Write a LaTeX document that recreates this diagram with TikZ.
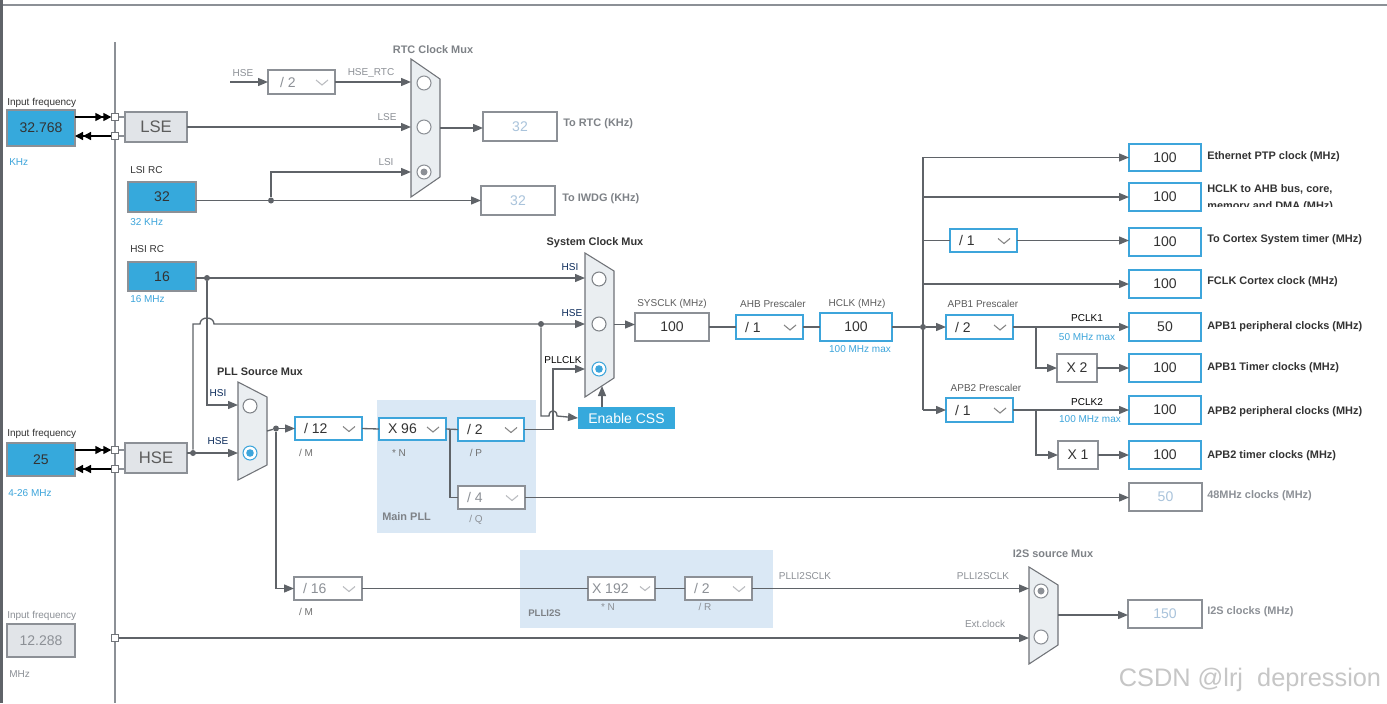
\documentclass[tikz,border=0pt]{standalone}
\usepackage{fontspec}
\setmainfont{Liberation Sans}
\usetikzlibrary{arrows.meta}
\definecolor{lc}{HTML}{5F6368}
\definecolor{bl}{HTML}{36A9DC}
\definecolor{bt}{HTML}{3DA5DB}
\definecolor{gb}{HTML}{E1E4E8}
\definecolor{gr}{HTML}{8C9096}
\definecolor{dv}{HTML}{A9C3DB}
\definecolor{reg}{HTML}{DAE8F5}
\definecolor{muxf}{HTML}{EAEEF1}
\definecolor{tx}{HTML}{333333}
\definecolor{nv}{HTML}{0A2A5A}
\newcommand\bx[7]{\node[#6, minimum width={(#4-#2)*0.75pt}, minimum height={(#5-#3)*0.75pt}] (#1) at ({(#2+#4)/2},{(#3+#5)/2}) {#7};}
\newcommand\pre[8]{\bx{#1}{#2}{#3}{#4}{#5}{#6}{}
 \node[val,text=#8,anchor=west] at (#2+9,{(#3+#5)/2}) {#7};
 \draw[line width=0.8pt,draw=#8!60] ([shift={(-19,-2)}]#1.east) -- ++(6,5) -- ++(6,-5);}
\newcommand\mux[7]{\draw[muxs] (#2,#3) -- (#5,#6) -- (#5,#7) -- (#2,#4) -- cycle;
 \coordinate (#1out) at (#5,{(#6+#7)/2});}
\begin{document}
\begin{tikzpicture}[x=0.75pt,y=-0.75pt,
 ln/.style={draw=lc,line width=1pt},
 arr/.style={ln,-{Triangle[length=7.5pt,width=6pt]}},
 base/.style={inner sep=0pt,outer sep=0pt},
 bfill/.style={base,fill=bl,draw=gr,line width=0.8pt,font=\fontsize{10.5}{12}\selectfont,text=tx},
 bout/.style={base,fill=white,draw=bt,line width=1.6pt,font=\fontsize{10.5}{12}\selectfont,text=tx},
 wbox/.style={base,fill=white,draw=gr,line width=0.8pt,font=\fontsize{10.5}{12}\selectfont,text=tx},
 dbox/.style={base,fill=white,draw=gr,line width=0.8pt,font=\fontsize{10.5}{12}\selectfont,text=dv},
 gbox/.style={base,fill=gb,draw=gr,line width=0.8pt,font=\fontsize{12.5}{14}\selectfont,text=tx!80},
 val/.style={base,font=\fontsize{10.5}{12}\selectfont},
 lb/.style={font=\fontsize{7.5}{9}\selectfont,text=tx,inner sep=0pt},
 lbg/.style={lb,text=gr},
 lbb/.style={lb,text=bt},
 lbn/.style={lb,text=nv},
 bold/.style={lb,font=\fontsize{8.2}{9}\selectfont\bfseries},
 boldg/.style={bold,text=gr!90!black},
 muxs/.style={draw=gr!80!black,fill=muxf,line width=0.8pt},
 circ/.style={circle,draw=gr!90!black,line width=0.8pt,fill=white,minimum size=10.5pt,inner sep=0pt},
 sq/.style={base,draw=gr!80!black,fill=white,line width=0.7pt,minimum size=5.5pt},
 dot/.style={circle,fill=lc,inner sep=0pt,minimum size=4.5pt},
]
\useasboundingbox (0,0) rectangle (1387,703);
\fill[white] (0,0) rectangle (1387,703);
\draw[gr,line width=1.2pt] (0,5) -- (1387,5);
\fill[lc] (0,0) rectangle (3,703);
% regions
\fill[reg] (377,400) rectangle (536,533);
\fill[reg] (520,550) rectangle (773,628);
\node[boldg,anchor=west] at (382,517) {Main PLL};
\node[boldg,anchor=west,font=\fontsize{7.2}{9}\selectfont\bfseries] at (528,613) {PLLI2S};
% left vertical
\draw[gr,line width=0.8pt] (115,42) -- (115,703);
% inputs
\node[lb,anchor=west] at (7,103) {Input frequency};
\bx{in1}{7}{110}{75}{146}{bfill}{32.768}
\node[lbb,anchor=west] at (9,162) {KHz};
\node[lb,anchor=west] at (7,434) {Input frequency};
\bx{in2}{7}{443}{75}{476}{bfill}{25}
\node[lbb,anchor=west] at (8,493) {4-26 MHz};
\node[lbg,anchor=west] at (7,616) {Input frequency};
\bx{in3}{7}{624}{75}{657}{gbox}{\fontsize{10.5}{12}\selectfont\color{gr}12.288}
\node[lbg,anchor=west] at (9,674) {MHz};
\node[sq] (s1) at (115,117) {};
\node[sq] (s2) at (115,136) {};
\node[sq] (s3) at (115,450) {};
\node[sq] (s4) at (115,469) {};
\node[sq] (s5) at (115,638) {};
\bx{lse}{125}{112}{187}{142}{gbox}{LSE}
\bx{hse}{125}{443}{187}{473}{gbox}{HSE}
\draw[black,line width=1pt,-{Triangle[length=6pt,width=6pt]Triangle[length=6pt,width=6pt]}] (75,117) -- (s1.west);
\draw[black,line width=1pt,-{Triangle[length=6pt,width=6pt]Triangle[length=6pt,width=6pt]}] (s2.west) -- (75,136);
\draw[black,line width=1pt,-{Triangle[length=6pt,width=6pt]Triangle[length=6pt,width=6pt]}] (75,450) -- (s3.west);
\draw[black,line width=1pt,-{Triangle[length=6pt,width=6pt]Triangle[length=6pt,width=6pt]}] (s4.west) -- (75,469);
\draw[gr,line width=0.8pt] (s1.east) -- (125,117) (s2.east) -- (125,136) (s3.east) -- (125,450) (s4.east) -- (125,469);
% LSI/HSI
\node[lb,anchor=west] at (130,170) {LSI RC};
\bx{lsi}{128}{182}{196}{212}{bfill}{32}
\node[lbb,anchor=west] at (130,222) {32 KHz};
\node[lb,anchor=west] at (130,249) {HSI RC};
\bx{hsi}{128}{262}{196}{291}{bfill}{16}
\node[lbb,anchor=west] at (130,299) {16 MHz};
% RTC mux
\node[boldg] at (433,50) {RTC Clock Mux};
\mux{rtc}{411}{59}{197}{440}{79}{177}
\node[circ,draw=gr] at (424,83) {};
\node[circ,draw=gr] at (424,127) {};
\node[circ,draw=gr] (rc3) at (424,172) {};
\fill[gr] (rc3) circle (3.5);
\coordinate (rtc1) at (411,82);
\coordinate (rtc2) at (411,127);
\coordinate (rtc3) at (411,172);
\bx{hsediv}{268}{70}{335}{94}{wbox}{}
\node[val,text=gr,anchor=west] at (280,82) {/ 2};
\draw[line width=0.8pt,draw=gr!60] ([shift={(-19,-2)}]hsediv.east) -- ++(6,5) -- ++(6,-5);
\coordinate (hsefree) at (230,82);
\draw[arr] (hsefree) -- (hsediv.west);
\node[lbg] at (243,73) {HSE};
\draw[arr] (hsediv.east) -- (rtc1);
\node[lbg] at (371,73) {HSE\_RTC};
\draw[arr] (lse.east) -- (rtc2);
\node[lbg] at (387,117) {LSE};
\bx{rtcb}{483}{112}{557}{141}{dbox}{32}
\node[boldg,anchor=west] at (563,124) {To RTC (KHz)};
\bx{iwdg}{481}{186}{555}{215}{dbox}{32}
\node[boldg,anchor=west] at (562,199) {To IWDG (KHz)};
\draw[arr] (rtcout) -- (rtcout -| rtcb.west);
\node[dot] (lsid) at (271,200.5) {};
\draw[arr] (lsi.east |- iwdg.west) -- (iwdg.west);
\draw[arr] (lsid) |- (rtc3);
\node[lbg] at (386,162) {LSI};
% System mux
\node[bold,text=tx] at (595,243) {System Clock Mux};
\mux{sys}{585}{253}{397}{614}{271}{378}
\node[circ] at (599,279) {};
\node[circ] at (599,324) {};
\node[circ,draw=bt] (sc3) at (599,369) {};
\fill[bt] (sc3) circle (3.8);
\coordinate (sys1) at (585,278);
\coordinate (sys2) at (585,324);
\coordinate (sys3) at (585,369);
\coordinate (sysb) at (602,386);
\node[dot] (hsid) at (207,278) {};
\draw[arr] (hsi.east |- sys1) -- (sys1);
\node[lbn] at (570,267) {HSI};
% PLL mux
\node[bold,text=tx] at (260,372) {PLL Source Mux};
\mux{pll}{238}{382}{480}{267}{397}{465}
\node[circ] at (250,406) {};
\node[circ,draw=bt] (pc2) at (250,453) {};
\fill[bt] (pc2) circle (3.8);
\coordinate (pll1) at (238,405);
\coordinate (pll2) at (238,453);
\draw[arr] (hsid) |- (pll1);
\node[lbn] at (218,393) {HSI};
\node[dot] (hsed) at (193,453) {};
\draw[arr] (hse.east |- pll2) -- (pll2);
\node[lbn] at (218,441) {HSE};
\node[dot] (sysd) at (541,324) {};
\draw[arr] (hsed) -- (193,324) -- (200,324) .. controls (200,316) and (214,316) .. (214,324) -- (sys2);
\node[lbn] at (572,313) {HSE};
% PLL chain
\node[dot] (plld) at (276,428.5) {};
\draw[ln] (pllout) -- (plld);
\pre{m}{295}{417}{362}{440}{bout}{/ 12}{tx}
\pre{n}{379}{418}{446}{440}{bout}{X 96}{tx}
\pre{p}{458}{418}{524}{441}{bout}{/ 2}{tx}
\pre{q}{458}{486}{525}{509}{dbox}{/ 4}{gr}
\node[lb,text=tx!70] at (306,453) {/ M};
\node[lb,text=tx!70] at (399,453) {* N};
\node[lb,text=tx!70] at (476,453) {/ P};
\node[lbg] at (476,520) {/ Q};
\draw[arr] (plld) -- (m.west);
\draw[ln] (m.east) -- (n.west);
\draw[ln] (n.east) -- (p.west);
\draw[ln] (450,429) |- (q.west);
% Enable CSS & PLLCLK
\bx{css}{578}{407}{675}{429}{base,fill=bl,text=white,font=\fontsize{10.5}{12}\selectfont}{Enable CSS}
\draw[arr] (p.east) -- (553,429.5) |- (sys3);
\node[lb,text=black] at (563,360) {PLLCLK};
\draw[arr] (sysd) -- (541,416) -- (549,416) .. controls (549,409) and (557,409) .. (557,416) -- (css.west);
\draw[arr] (css.north -| sysb) -- (sysb);
% SYSCLK chain
\node[lbg,text=tx!80] at (672,304) {SYSCLK (MHz)};
\bx{sysclk}{635}{313}{709}{341}{wbox}{100}
\draw[arr] (sysout) -- (sysout -| sysclk.west);
\node[lb,text=tx!80] at (773,304) {AHB Prescaler};
\pre{ahb}{736}{315}{803}{339}{bout}{/ 1}{tx}
\node[lb,text=tx!80] at (857,304) {HCLK (MHz)};
\bx{hclk}{820}{313}{892}{341}{bout}{100}
\node[lbb] at (860,349) {100 MHz max};
\draw[ln] (sysclk.east) -- (ahb.west);
\draw[ln] (ahb.east) -- (hclk.west);
\node[dot] (bus) at (923,327) {};
\draw[ln] (hclk.east) -- (bus);
\draw[ln] (923,157) -- (923,410);
% outputs
\tikzset{ol/.style={bold,text=tx,anchor=west}}
\bx{eth}{1129}{144}{1201}{171}{bout}{100}
\node[ol] at (1207,157) {Ethernet PTP clock (MHz)};
\bx{hb}{1129}{183}{1201}{211}{bout}{100}
\begin{scope}
\clip (1204,175) rectangle (1387,206);
\node[ol,align=left,anchor=north west] at (1207,184) {HCLK to AHB bus, core,\\[4pt]memory and DMA (MHz)};
\end{scope}
\pre{cs}{950}{229}{1017}{252}{bout}{/ 1}{tx}
\bx{cst}{1129}{228}{1201}{256}{bout}{100}
\node[ol] at (1207,240) {To Cortex System timer (MHz)};
\bx{fc}{1129}{270}{1201}{298}{bout}{100}
\node[ol] at (1207,282) {FCLK Cortex clock (MHz)};
\draw[arr] (923,157.5) -- (eth.west);
\draw[arr] (923,197) -- (hb.west);
\draw[ln] (923,240.5) -- (cs.west);
\draw[arr] (cs.east) -- (cs.east -| cst.west);
\draw[arr] (923,284) -- (fc.west);
\node[lb,text=tx!80] at (983,304) {APB1 Prescaler};
\pre{a1}{946}{315}{1013}{339}{bout}{/ 2}{tx}
\bx{p1}{1129}{313}{1201}{341}{bout}{50}
\node[ol] at (1207,327) {APB1 peripheral clocks (MHz)};
\bx{x2}{1057}{354}{1097}{382}{wbox}{X 2}
\bx{t1}{1129}{354}{1201}{382}{bout}{100}
\node[ol] at (1207,368) {APB1 Timer clocks (MHz)};
\draw[arr] (bus) -- (a1.west);
\draw[arr] (a1.east) -- (p1.west);
\node[lb,text=black] at (1087,318) {PCLK1};
\node[lbb] at (1087,337) {50 MHz max};
\draw[arr] (1036,327) |- (x2.west);
\draw[arr] (x2.east) -- (t1.west);
\node[lb,text=tx!80] at (986,388) {APB2 Prescaler};
\pre{a2}{946}{398}{1013}{422}{bout}{/ 1}{tx}
\bx{p2}{1129}{396}{1201}{424}{bout}{100}
\node[ol] at (1207,412) {APB2 peripheral clocks (MHz)};
\bx{x1}{1058}{441}{1098}{469}{wbox}{X 1}
\bx{t2}{1129}{441}{1201}{469}{bout}{100}
\node[ol] at (1207,456) {APB2 timer clocks (MHz)};
\draw[arr] (923,410) -- (a2.west);
\draw[arr] (a2.east) -- (p2.west);
\node[lb,text=black] at (1087,402) {PCLK2};
\node[lbb] at (1090,419) {100 MHz max};
\draw[arr] (1036,410) |- (x1.west);
\draw[arr] (x1.east) -- (t2.west);
\bx{c48}{1129}{483}{1202}{511}{dbox}{50}
\node[ol,text=gr] at (1207,496) {48MHz clocks (MHz)};
\draw[arr] (q.east) -- (q.east -| c48.west);
% PLLI2S chain
\pre{m2}{294}{577}{362}{600}{dbox}{/ 16}{gr}
\node[lb,text=tx!70] at (306,612) {/ M};
\draw[arr] (plld) |- (m2.west);
\bx{n2}{588}{577}{655}{600}{dbox}{}
\node[val,text=gr,anchor=west] at (592,588.5) {X 192};
\draw[line width=0.8pt,draw=gr!60] ([shift={(-15,-2)}]n2.east) -- ++(5,4) -- ++(5,-4);
\pre{r2}{685}{577}{752}{600}{dbox}{/ 2}{gr}
\node[lbg] at (608,607) {* N};
\node[lbg] at (705,607) {/ R};
\draw[ln] (m2.east) -- (n2.west);
\draw[ln] (n2.east) -- (r2.west);
% I2S mux
\node[boldg] at (1053,554) {I2S source Mux};
\mux{i2s}{1029}{567}{664}{1058}{585}{645}
\node[circ,draw=gr] (ic1) at (1041,591) {};
\fill[gr] (ic1) circle (3.5);
\node[circ,draw=gr] at (1041,637) {};
\coordinate (i2s1) at (1029,588.5);
\coordinate (i2s2) at (1029,638);
\draw[arr] (r2.east) -- (i2s1);
\node[lbg] at (805,576) {PLLI2SCLK};
\node[lbg] at (983,576) {PLLI2SCLK};
\draw[arr] (s5.east) -- (i2s2);
\node[lbg] at (985,624) {Ext.clock};
\bx{i2sb}{1128}{600}{1202}{628}{dbox}{150}
\node[ol,text=gr] at (1207,612) {I2S clocks (MHz)};
\draw[arr] (i2sout) -- (i2sout -| i2sb.west);
% watermark
\node[text=gray!45,font=\fontsize{19}{20}\selectfont] at (1250,680) {CSDN @lrj\ \ depression};
\end{tikzpicture}
\end{document}
